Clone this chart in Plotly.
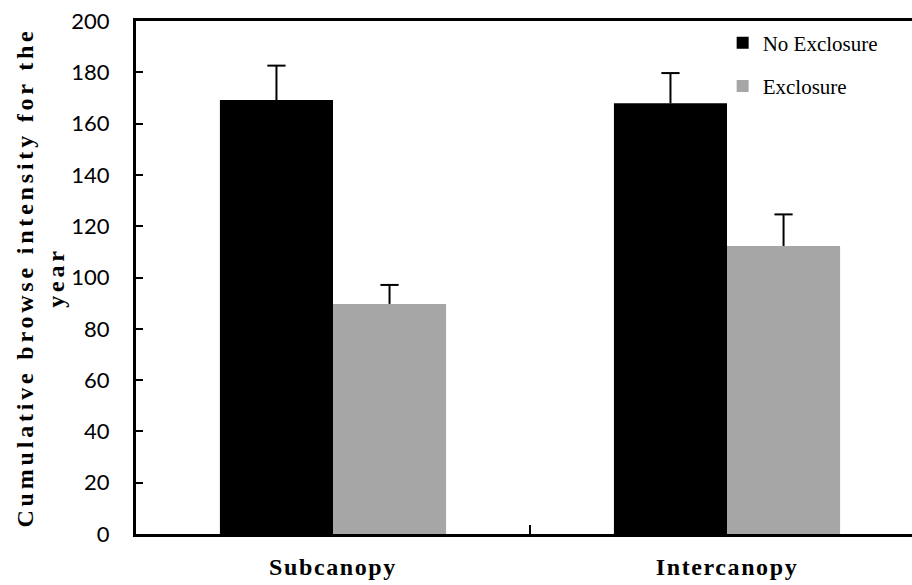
import plotly.graph_objects as go

# Browse intensity by canopy position, with and without exclosures
categories = ["Subcanopy", "Intercanopy"]
no_exclosure = [169.2, 167.9]
no_exclosure_err = [13.4, 11.8]
exclosure = [89.7, 112.3]
exclosure_err = [7.4, 12.3]
y_ticks = [0, 20, 40, 60, 80, 100, 120, 140, 160, 180, 200]

serif = "Liberation Serif"


def spaced(text, px):
    return f'<span style="letter-spacing:{px}px">{text}</span>'


fig = go.Figure()
series = [
    ("No Exclosure", no_exclosure, no_exclosure_err, "#000000", "a"),
    ("Exclosure", exclosure, exclosure_err, "#a6a6a6", "b"),
]
for name, vals, errs, color, grp in series:
    # bar with an upward whisker (no caps on the whisker itself)
    fig.add_trace(go.Bar(
        x=categories, y=vals, name=name,
        marker=dict(color=color, line=dict(width=0)),
        error_y=dict(type="data", array=errs, arrayminus=[0] * len(errs),
                     symmetric=False, color="#000000", thickness=2, width=0),
        offsetgroup=grp, alignmentgroup="g", legendgroup=grp,
    ))
for name, vals, errs, color, grp in series:
    # cap at the end of each whisker
    fig.add_trace(go.Scatter(
        x=categories, y=[v + e for v, e in zip(vals, errs)],
        mode="markers", showlegend=False, hoverinfo="skip",
        marker=dict(symbol="line-ew-open", size=13, color="#000000",
                    line=dict(color="#000000", width=2)),
        offsetgroup=grp, alignmentgroup="g", legendgroup=grp,
    ))

fig.update_layout(
    width=912, height=585,
    margin=dict(l=136, r=0, t=21, b=51),
    paper_bgcolor="white", plot_bgcolor="white",
    barmode="group", bargap=0.426, bargroupgap=0,
    scattermode="group", scattergap=0.426,
    showlegend=True,
    legend=dict(x=0.756, y=0.997, xanchor="left", yanchor="top",
                font=dict(family=serif, size=21, color="#000000"),
                bgcolor="rgba(0,0,0,0)", tracegroupgap=13,
                itemwidth=30),
    xaxis=dict(
        range=[-0.5, 1.4695],
        showline=True, linecolor="#000000", linewidth=3, mirror=True,
        ticks="inside", tickson="boundaries", ticklen=9, tickwidth=2,
        tickcolor="#000000",
        tickfont=dict(family=serif, size=24, color="#000000"),
        tickvals=categories,
        ticktext=[f"<b>{spaced(c, 1.6)}</b>" for c in categories],
        ticklabelstandoff=9,
        showgrid=False,
    ),
    yaxis=dict(
        range=[0, 200],
        tickvals=y_ticks,
        showline=True, linecolor="#000000", linewidth=3,
        ticks="inside", ticklen=7, tickwidth=1.5, tickcolor="#000000",
        tickfont=dict(family="Lato", size=22, color="#000000"),
        ticklabelstandoff=19,
        showgrid=False, zeroline=False,
        title=dict(
            text="<b>" + spaced("Cumulative browse intensity for the", 3.8)
                 + "<br>" + spaced("year", 3.8) + "</b>",
            font=dict(family=serif, size=24, color="#000000"),
            standoff=0,
        ),
    ),
)

fig.write_html("out.html")
